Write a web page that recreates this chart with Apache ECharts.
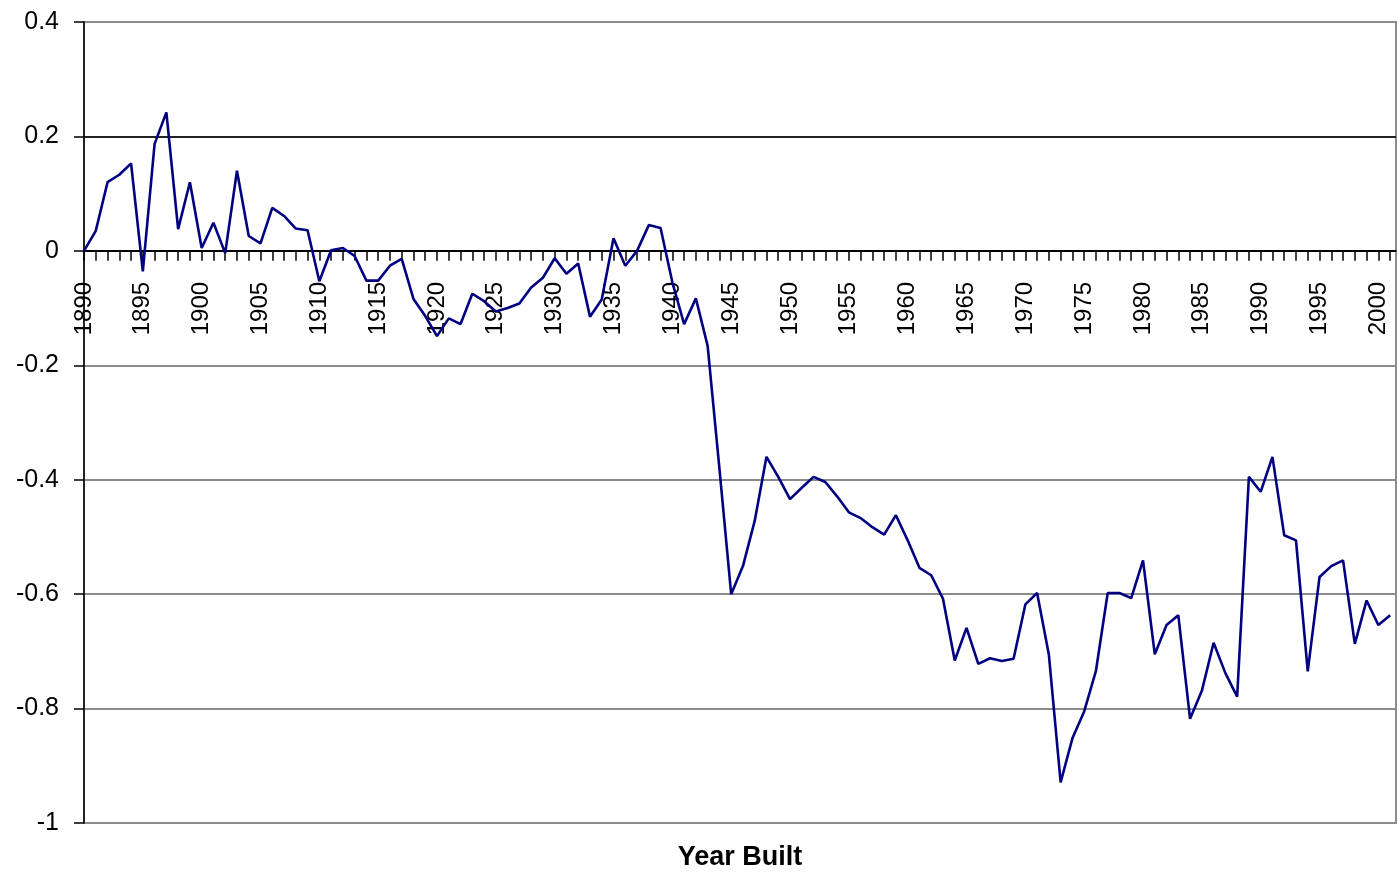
<!DOCTYPE html>
<html>
<head>
<meta charset="utf-8">
<script src="https://cdn.jsdelivr.net/npm/echarts@6/dist/echarts.min.js"></script>
<style>
  html, body { margin: 0; padding: 0; background: #fff; }
  #chart { width: 1398px; height: 876px; }
</style>
</head>
<body>
<div id="chart"></div>
<script>
// year built, one value per year from 1890 to 2001
var firstYear = 1890;
var values = [
  0, 0.035, 0.12, 0.133, 0.153, -0.036, 0.187, 0.242, 0.038, 0.12,
  0.005, 0.049, -0.004, 0.14, 0.026, 0.013, 0.075, 0.061, 0.039, 0.036,
  -0.053, 0.001, 0.005, -0.009, -0.052, -0.052, -0.026, -0.014, -0.084, -0.114,
  -0.149, -0.118, -0.128, -0.075, -0.088, -0.106, -0.1, -0.092, -0.064, -0.047,
  -0.013, -0.04, -0.022, -0.115, -0.085, 0.022, -0.026, 0.0, 0.045, 0.04,
  -0.055, -0.128, -0.083, -0.166, -0.38, -0.6, -0.551, -0.472, -0.36, -0.395,
  -0.434, -0.414, -0.395, -0.404, -0.429, -0.457, -0.467, -0.483, -0.496, -0.462,
  -0.506, -0.554, -0.567, -0.608, -0.716, -0.659, -0.722, -0.712, -0.717, -0.713,
  -0.618, -0.598, -0.706, -0.929, -0.852, -0.805, -0.734, -0.598, -0.598, -0.607,
  -0.541, -0.705, -0.654, -0.637, -0.818, -0.769, -0.685, -0.738, -0.779, -0.395,
  -0.421, -0.36, -0.497, -0.506, -0.735, -0.57, -0.551, -0.541, -0.687, -0.611,
  -0.654, -0.637
];
var yTicks = [-1, -0.8, -0.6, -0.4, -0.2, 0, 0.2, 0.4];
var xTitle = 'Year Built';

var years = values.map(function (v, i) { return firstYear + i; });
var points = years.map(function (y, i) { return [y, values[i]]; });

var font = '"Liberation Sans", Arial, sans-serif';
var W = 1398, H = 876;
var gridTop = 22, gridBottom = 53;
var yMin = yTicks[0], yMax = yTicks[yTicks.length - 1];
// x axis sits on the zero line: shift it up from the grid bottom
var plotH = H - gridTop - gridBottom;
var zeroOffset = -plotH * (0 - yMin) / (yMax - yMin);

var myChart = echarts.init(document.getElementById('chart'), null, { renderer: 'canvas' });

var option = {
  animation: false,
  backgroundColor: '#fff',
  grid: {
    left: 84,
    top: gridTop,
    right: 2,
    bottom: gridBottom,
    outerBoundsMode: 'none',
    containLabel: false,
    show: true,
    borderColor: '#8c8c8c',
    borderWidth: 2
  },
  xAxis: {
    type: 'value',
    min: firstYear,
    max: 2001.5,
    interval: 1,
    offset: zeroOffset,
    axisLine: { onZero: false, lineStyle: { color: '#000', width: 1.5 } },
    axisTick: { show: true, length: 10, lineStyle: { color: '#000', width: 1.5 } },
    axisLabel: {
      rotate: 90,
      margin: 31,
      fontSize: 24,
      fontFamily: font,
      color: '#000',
      showMaxLabel: false,
      hideOverlap: false,
      formatter: function (v) { return v % 5 === 0 ? String(v) : ''; }
    },
    splitLine: { show: false }
  },
  yAxis: {
    type: 'value',
    min: yMin,
    max: yMax,
    interval: 0.2,
    axisLine: { show: true, lineStyle: { color: '#000', width: 1.5 } },
    axisTick: { show: true, length: 10, lineStyle: { color: '#000', width: 1.5 } },
    axisLabel: {
      margin: 25,
      fontSize: 25,
      fontFamily: font,
      color: '#000',
      formatter: function (v) { return String(Math.round(v * 10) / 10); }
    },
    splitLine: {
      show: true,
      lineStyle: {
        color: ['#8c8c8c', '#8c8c8c', '#8c8c8c', '#8c8c8c', '#8c8c8c', '#000', '#222', '#8c8c8c'],
        width: 1.8
      }
    }
  },
  graphic: [{
    type: 'text',
    x: 740,
    y: 858,
    style: {
      text: xTitle,
      fill: '#000',
      font: 'bold 27px ' + font,
      textAlign: 'center',
      textVerticalAlign: 'middle'
    }
  }],
  series: [{
    type: 'line',
    data: points,
    showSymbol: false,
    lineStyle: { color: '#000080', width: 2.6 },
    z: 3
  }]
};
myChart.setOption(option, true);
</script>
</body>
</html>
